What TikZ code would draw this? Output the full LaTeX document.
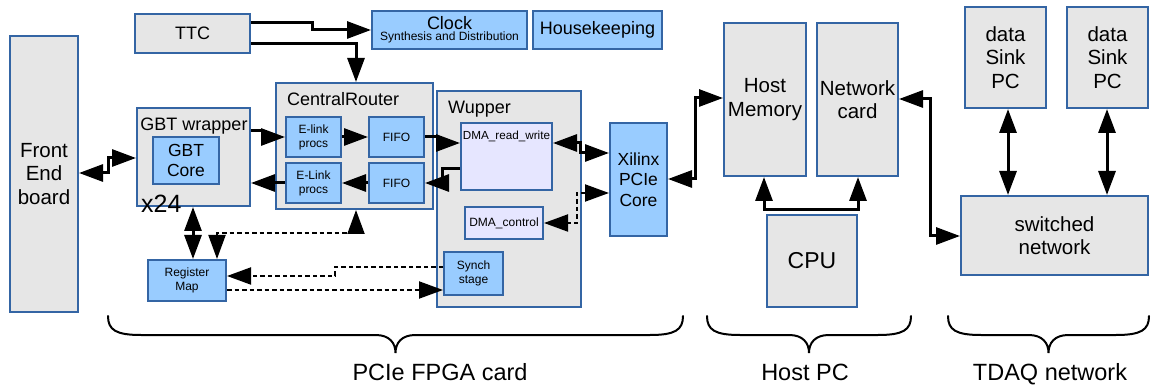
\documentclass[tikz,border=0pt]{standalone}
\usepackage{fontspec}
\setmainfont{Liberation Sans}
\usetikzlibrary{arrows.meta}
\definecolor{bord}{HTML}{3465A4}
\definecolor{grayf}{HTML}{E6E6E6}
\definecolor{bluef}{HTML}{99CCFF}
\definecolor{lavf}{HTML}{E6E6FF}
\newcommand{\curlybr}[3]{% left x, right x, top y
  \draw[bracestyle] (#1,#3) .. controls (#1,{#3+14}) and ({#1+8},{#3+19}) .. ({#1+33},{#3+19})
    -- ({(#1+#2)/2-20},{#3+19}) .. controls ({(#1+#2)/2-6},{#3+19}) and ({(#1+#2)/2},{#3+27}) .. ({(#1+#2)/2},{#3+37})
    .. controls ({(#1+#2)/2},{#3+27}) and ({(#1+#2)/2+6},{#3+19}) .. ({(#1+#2)/2+20},{#3+19})
    -- ({#2-33},{#3+19}) .. controls ({#2-8},{#3+19}) and (#2,{#3+14}) .. (#2,#3);}
\begin{document}
\begin{tikzpicture}[x=1pt,y=-1pt,
  >={Triangle[length=24pt,width=17pt]},
  box/.style={draw=bord, line width=2pt, inner sep=0pt, align=center},
  gbox/.style={box, fill=grayf},
  bbox/.style={box, fill=bluef},
  lbox/.style={box, fill=lavf},
  fbig/.style={font=\fontsize{20.5}{23.5}\selectfont},
  fmid/.style={font=\fontsize{18}{20.7}\selectfont},
  fsml/.style={font=\fontsize{12}{13.8}\selectfont},
  flbl/.style={font=\fontsize{23.5}{27}\selectfont},
  arr/.style={line width=3pt, ->},
  darr/.style={line width=2pt, dash pattern=on 4.5pt off 3pt, ->},
  bracestyle/.style={line width=2pt, line cap=round}]
\useasboundingbox (0,0) rectangle (1151,387);

% ---- PCIe FPGA card ----
\node[gbox, fbig, minimum width=68pt, minimum height=276pt] (fe) at (44,174) {Front\\End\\board};
\node[gbox, fmid, minimum width=115pt, minimum height=39pt] (ttc) at (192.5,33.5) {TTC};
\node[bbox, minimum width=155pt, minimum height=38pt] (clk) at (449.5,30)
  {{\fontsize{18}{18}\selectfont Clock}\\[-1pt]{\fontsize{12}{12}\selectfont Synthesis and Distribution}};
\node[bbox, fmid, minimum width=129pt, minimum height=38pt] (hk) at (597.5,30) {Housekeeping};

\node[gbox, minimum width=113pt, minimum height=98pt] (gbt) at (193.5,157) {};
\node[fmid, anchor=base] (gbtlbl) at (194,131) {GBT wrapper};
\node[bbox, font=\fontsize{17.5}{20}\selectfont, minimum width=66pt, minimum height=47pt] (core) at (186,160.5) {GBT\\Core};
\node[font=\fontsize{25}{25}\selectfont, anchor=base west, inner sep=0pt] (x24) at (141,213) {x24};
\node[bbox, fsml, minimum width=78pt, minimum height=41pt] (reg) at (187,280.5) {Register\\Map};

\node[gbox, minimum width=157pt, minimum height=126pt] (cr) at (354.5,146) {};
\node[fmid, anchor=base west, inner sep=0pt] (crlbl) at (287,106) {CentralRouter};
\node[bbox, fsml, minimum width=55pt, minimum height=40pt] (el1) at (313.5,137) {E-link\\procs};
\node[bbox, fsml, minimum width=55pt, minimum height=40pt] (ff1) at (396.5,137) {FIFO};
\node[bbox, fsml, minimum width=55pt, minimum height=40pt] (el2) at (313.5,183) {E-Link\\procs};
\node[bbox, fsml, minimum width=55pt, minimum height=40pt] (ff2) at (396.5,183) {FIFO};

\node[gbox, minimum width=144pt, minimum height=216pt] (wup) at (509,199) {};
\node[fmid, anchor=base west, inner sep=0pt] (wuplbl) at (448,114) {Wupper};
\node[lbox, minimum width=91pt, minimum height=67pt] (dma) at (506.5,156.5) {};
\node[font=\fontsize{11.7}{13}\selectfont, anchor=base, inner sep=0pt] (dmalbl) at (506.5,140) {DMA\_read\_write};
\node[lbox, fsml, minimum width=78pt, minimum height=32pt] (dmc) at (504,223) {DMA\_control};
\node[bbox, fsml, minimum width=59pt, minimum height=43pt] (syn) at (473.5,273.5) {Synch\\stage};
\node[bbox, font=\fontsize{17.5}{20.3}\selectfont, minimum width=57pt, minimum height=113pt] (pcie) at (638.5,179.5) {Xilinx\\PCIe\\Core};

% ---- Host PC ----
\node[gbox, fbig, minimum width=82pt, minimum height=153pt] (hm) at (765,99.5) {Host\\Memory};
\node[gbox, fbig, minimum width=81pt, minimum height=153pt] (nc) at (857.5,99.5) {Network\\card};
\node[gbox, font=\fontsize{23}{26}\selectfont, minimum width=90pt, minimum height=92pt] (cpu) at (812,261) {CPU};

% ---- TDAQ network ----
\node[gbox, fbig, minimum width=81pt, minimum height=101pt] (ds1) at (1005.5,57.5) {data\\Sink\\PC};
\node[gbox, fbig, minimum width=81pt, minimum height=101pt] (ds2) at (1107.5,57.5) {data\\Sink\\PC};
\node[gbox, fbig, minimum width=187pt, minimum height=79pt] (sw) at (1054.5,235.5) {switched\\network};

% ---- data links ----
\draw[arr,<->] (fe.east |- 0,173) -- (108,173) -- (108,158) -- (gbt.west |- 0,158);
\draw[arr] (ttc.east |- 0,23) -- (312,23) -- (312,30) -- (clk.west |- 0,30);
\draw[arr] (ttc.east |- 0,44) -- (356,44) -- (cr.north -| 356,0);
\draw[arr] (gbt.east |- 0,131) -- (262,131) -- (262,137) -- (el1.west);
\draw[arr] (el1.east) -- (ff1.west);
\draw[arr] (ff1.east) -- (437,137) -- (437,143) -- (dma.west |- 0,143);
\draw[arr] (dma.west |- 0,169) -- (442,169) -- (442,183) -- (ff2.east);
\draw[arr] (ff2.west) -- (el2.east);
\draw[arr] (el2.west) -- (gbt.east |- 0,183);
\draw[arr,<->] (gbt.south -| 193,0) -- (reg.north -| 193,0);
\draw[arr,<->] (dma.east |- 0,143) -- (580,143) -- (580,153) -- (pcie.west |- 0,153);
\draw[arr,<->] (pcie.east |- 0,179) -- (695,179) -- (695,98) -- (hm.west |- 0,98);
\draw[arr,<->] (hm.south -| 764,0) -- (764,210) -- (858,210) -- (nc.south -| 858,0);
\draw[arr,<->] (nc.east |- 0,99) -- (930,99) -- (930,236) -- (sw.west |- 0,236);
\draw[arr,<->] (ds1.south -| 1008,0) -- (sw.north -| 1008,0);
\draw[arr,<->] (ds2.south -| 1107,0) -- (sw.north -| 1107,0);

% ---- control links ----
\draw[darr,<->] (reg.north -| 217,0) -- (217,233) -- (356,233) -- (cr.south -| 356,0);
\draw[darr] (syn.west |- 0,267) -- (335,267) -- (335,276) -- (reg.east |- 0,276);
\draw[darr] (reg.east |- 0,290) -- (syn.west |- 0,290);
\draw[darr,<->] (pcie.west |- 0,193) -- (577,193) -- (577,223) -- (dmc.east);

% ---- groupings ----
\curlybr{108}{683}{316}
\curlybr{707}{911}{316}
\curlybr{948}{1149}{316}
\node[flbl, anchor=base] (lblfpga) at (440,380) {PCIe FPGA card};
\node[flbl, anchor=base] (lblhost) at (805,380) {Host PC};
\node[flbl, anchor=base] (lbltdaq) at (1050,380) {TDAQ network};
\end{tikzpicture}
\end{document}
